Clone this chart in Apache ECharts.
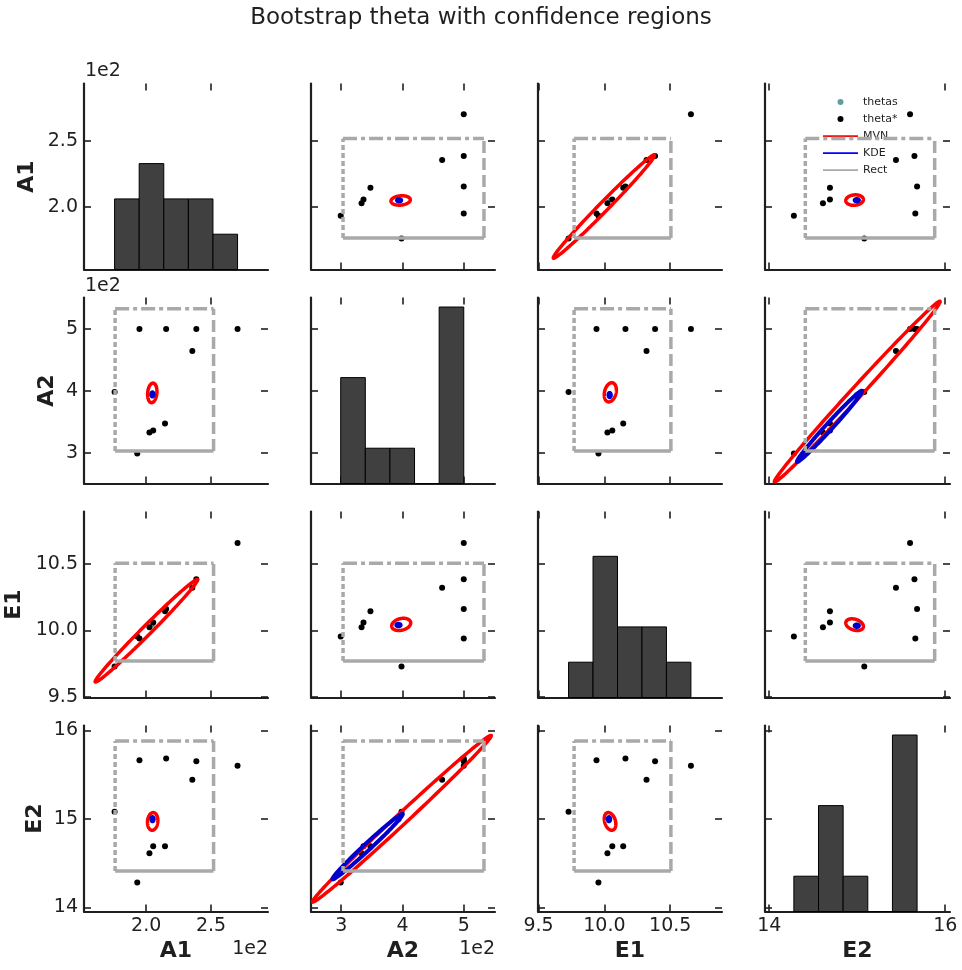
<!DOCTYPE html>
<html>
<head>
<meta charset="utf-8">
<script src="https://cdn.jsdelivr.net/npm/echarts@6/dist/echarts.min.js"></script>
<style>
  html, body { margin: 0; padding: 0; background: #fff; }
  #chart { width: 962px; height: 970px; }
</style>
</head>
<body>
<div id="chart"></div>
<script>
// variables of the pair plot
var varNames = ['A1', 'A2', 'E1', 'E2'];

// bootstrap estimates theta* (one entry per bootstrap sample)
var thetaStarA1 = [194.8, 215.4, 238.7, 270.5, 235.6, 175.6, 202.5, 205.4, 214.5, 193.1];
var thetaStarA2 = [500, 500, 500, 500, 464.7, 398.4, 333.2, 336.4, 347.7, 299.2];
var thetaStarE1 = [9.94, 10.16, 10.385, 10.657, 10.32, 9.728, 10.023, 10.06, 10.143, 9.955];
var thetaStarE2 = [15.66, 15.68, 15.65, 15.60, 15.44, 15.08, 14.61, 14.69, 14.69, 14.28];

// thetas (hidden under the KDE blob)
var thetasA1 = [204.8];
var thetasA2 = [394.5];
var thetasE1 = [10.04];
var thetasE2 = [14.99];

// histogram counts on the diagonal (5 bins between min and max of theta*)
var histA1 = [2, 3, 2, 2, 1];
var histA2 = [3, 1, 1, 0, 5];
var histE1 = [1, 4, 2, 2, 1];
var histE2 = [1, 3, 1, 0, 5];

// rectangular confidence region per variable
var rectLow = [176, 303, 9.77, 14.41];
var rectHigh = [252, 533, 10.505, 15.88];

// MVN confidence ellipses: [xVar, yVar, cx, cy, halfX, halfY, rho]
var mvnPairs = [
  ['A1', 'A2', 204.7, 397, 3.6, 15.8, 0.15],
  ['A1', 'E1', 200.1, 9.997, 39.5, 0.385, 0.992],
  ['A1', 'E2', 205, 14.97, 4.0, 0.10, 0.1],
  ['A2', 'E1', 397.9, 10.045, 15.5, 0.046, 0.25],
  ['A2', 'E2', 399, 15.0, 146, 0.942, 0.996],
  ['E1', 'E2', 10.043, 14.97, 0.044, 0.10, -0.3]
];

// KDE confidence contours: [xVar, yVar, cx, cy, halfX, halfY, rho]
var kdePairs = [
  ['A1', 'A2', 204.8, 394.5, 0.9, 3.4, 0],
  ['A1', 'E2', 204.9, 14.995, 0.9, 0.024, 0],
  ['A2', 'E1', 393.5, 10.04, 3.5, 0.009, 0],
  ['A2', 'E2', 343, 14.685, 57.5, 0.37, 0.99],
  ['E1', 'E2', 10.035, 14.995, 0.009, 0.024, 0]
];

// axis ranges and ticks
var axisMin = [152, 250.7, 9.496, 13.952];
var axisMax = [294, 551, 10.893, 16.054];
var xTicks = [[200, 250], [300, 400, 500], [9.5, 10, 10.5], [14, 16]];
var yTicks = [[200, 250], [300, 400, 500], [9.5, 10, 10.5], [14, 15, 16]];

var thetaStarCols = [thetaStarA1, thetaStarA2, thetaStarE1, thetaStarE2];
var thetasCols = [thetasA1, thetasA2, thetasE1, thetasE2];
var histCols = [histA1, histA2, histE1, histE2];

var FONT = 'DejaVu Sans';
var INK = '#1f1f1f';
var TICK_FONT = 19;
var colLeft = [84, 311, 538, 765];
var colWidth = [184, 184, 184, 185];
var rowTop = [83.5, 297.5, 511.5, 725.5];
var rowHeight = 186;
var yNameGap = [46, 26, 59, 38];

var labelFormat = [
  function (v) { return (v / 100).toFixed(1); },
  function (v) { return (v / 100).toFixed(0); },
  function (v) { return v.toFixed(1); },
  function (v) { return v.toFixed(0); }
];

function findPair(list, xv, yv) {
  for (var i = 0; i < list.length; i++) {
    var p = list[i];
    if (p[0] === xv && p[1] === yv) return [p[2], p[3], p[4], p[5], p[6]];
    if (p[0] === yv && p[1] === xv) return [p[3], p[2], p[5], p[4], p[6]];
  }
  return null;
}

function ellipseRender(color, width) {
  return function (params, api) {
    var cx = api.value(0), cy = api.value(1), sx = api.value(2), sy = api.value(3), rho = api.value(4);
    var k = Math.sqrt(1 - rho * rho);
    var pts = [];
    for (var i = 0; i <= 160; i++) {
      var t = i / 160 * 2 * Math.PI;
      pts.push(api.coord([cx + sx * Math.cos(t), cy + sy * (rho * Math.cos(t) + k * Math.sin(t))]));
    }
    return { type: 'polygon', shape: { points: pts }, style: { fill: 'none', stroke: color, lineWidth: width } };
  };
}

function rectRender(params, api) {
  var lo = api.coord([api.value(0), api.value(2)]);
  var hi = api.coord([api.value(1), api.value(3)]);
  var base = { stroke: '#a9a9a9', lineWidth: 3.5, fill: 'none' };
  function ln(x1, y1, x2, y2, dash) {
    return { type: 'line', shape: { x1: x1, y1: y1, x2: x2, y2: y2 },
      style: Object.assign({}, base, { lineDash: dash }) };
  }
  return { type: 'group', children: [
    ln(lo[0], lo[1], lo[0], hi[1], [5, 3]),
    ln(hi[0], lo[1], hi[0], hi[1], [12, 5]),
    ln(lo[0], lo[1], hi[0], lo[1], null),
    ln(lo[0], hi[1], hi[0], hi[1], [14, 4, 4, 4])
  ] };
}

function histRender(params, api) {
  var p0 = api.coord([api.value(0), 0]);
  var p1 = api.coord([api.value(1), api.value(2)]);
  return { type: 'rect', shape: { x: p0[0], y: p1[1], width: p1[0] - p0[0], height: p0[1] - p1[1] },
    style: { fill: '#404040', stroke: '#000', lineWidth: 1 } };
}

var grid = [], xAxis = [], yAxis = [], series = [];
var tickStyle = { color: INK, width: 1.6 };

for (var r = 0; r < 4; r++) {
  for (var c = 0; c < 4; c++) {
    var g = r * 4 + c;
    var diag = r === c;
    grid.push({ left: colLeft[c], top: rowTop[r], width: colWidth[c], height: rowHeight });

    xAxis.push({
      type: 'value', gridIndex: g, position: 'bottom', min: axisMin[c], max: axisMax[c],
      axisLine: { show: true, onZero: false, lineStyle: { color: INK, width: 2.2 } },
      axisTick: { show: true, inside: true, length: 7, customValues: xTicks[c], lineStyle: tickStyle },
      axisLabel: { show: r === 3, customValues: xTicks[c], formatter: labelFormat[c], margin: 5,
        fontSize: TICK_FONT, color: INK, fontFamily: FONT },
      splitLine: { show: false },
      name: r === 3 ? varNames[c] : '', nameLocation: 'middle', nameGap: 29,
      nameTextStyle: { fontSize: 22, fontWeight: 'bold', color: INK, fontFamily: FONT }
    });
    xAxis.push({
      type: 'value', gridIndex: g, position: 'top', min: axisMin[c], max: axisMax[c],
      axisLine: { show: false, onZero: false },
      axisTick: { show: true, inside: true, length: 7, customValues: xTicks[c], lineStyle: tickStyle },
      axisLabel: { show: false }, splitLine: { show: false }
    });

    yAxis.push({
      type: 'value', gridIndex: g, position: 'left', min: axisMin[r], max: axisMax[r],
      axisLine: { show: true, onZero: false, lineStyle: { color: INK, width: 2.2 } },
      axisTick: { show: true, inside: true, length: 7, customValues: yTicks[r], lineStyle: tickStyle },
      axisLabel: { show: c === 0, customValues: yTicks[r], formatter: labelFormat[r], margin: 6,
        fontSize: TICK_FONT, color: INK, fontFamily: FONT },
      splitLine: { show: false },
      name: c === 0 ? varNames[r] : '', nameLocation: 'middle', nameGap: yNameGap[r], nameRotate: 90,
      nameTextStyle: { fontSize: 22, fontWeight: 'bold', color: INK, fontFamily: FONT }
    });
    if (diag) {
      yAxis.push({ type: 'value', gridIndex: g, min: 0, max: 5.27, show: false });
    } else {
      yAxis.push({
        type: 'value', gridIndex: g, position: 'right', min: axisMin[r], max: axisMax[r],
        axisLine: { show: false, onZero: false },
        axisTick: { show: true, inside: true, length: 7, customValues: yTicks[r], lineStyle: tickStyle },
        axisLabel: { show: false }, splitLine: { show: false }
      });
    }

    if (diag) {
      var vals = thetaStarCols[c];
      var lo = Math.min.apply(null, vals), hi = Math.max.apply(null, vals);
      var w = (hi - lo) / histCols[c].length;
      var bins = histCols[c].map(function (n, i) { return [lo + i * w, lo + (i + 1) * w, n]; });
      series.push({ type: 'custom', name: 'hist' + c, xAxisIndex: 2 * g, yAxisIndex: 2 * g + 1,
        renderItem: histRender, data: bins });
      continue;
    }

    var xs = thetaStarCols[c], ys = thetaStarCols[r];
    var tx = thetasCols[c], ty = thetasCols[r];
    series.push({ type: 'scatter', name: 'thetas', xAxisIndex: 2 * g, yAxisIndex: 2 * g, z: 1,
      symbolSize: 5, itemStyle: { color: '#5f9ea0', opacity: 1 },
      data: tx.map(function (v, i) { return [v, ty[i]]; }) });
    series.push({ type: 'scatter', name: 'theta*', xAxisIndex: 2 * g, yAxisIndex: 2 * g,
      symbolSize: 6, itemStyle: { color: '#000', opacity: 1 },
      data: xs.map(function (v, i) { return [v, ys[i]]; }) });
    var m = findPair(mvnPairs, varNames[c], varNames[r]);
    series.push({ type: 'custom', name: 'MVN', xAxisIndex: 2 * g, yAxisIndex: 2 * g, clip: true, z: 3,
      itemStyle: { color: 'red' }, renderItem: ellipseRender('red', 3.5), data: m ? [m] : [] });
    var k = findPair(kdePairs, varNames[c], varNames[r]);
    series.push({ type: 'custom', name: 'KDE', xAxisIndex: 2 * g, yAxisIndex: 2 * g, clip: true, z: 4,
      itemStyle: { color: 'blue' }, renderItem: ellipseRender('#0000cc', 4), data: k ? [k] : [] });
    series.push({ type: 'custom', name: 'Rect', xAxisIndex: 2 * g, yAxisIndex: 2 * g, clip: true, z: 5,
      itemStyle: { color: '#a9a9a9' }, renderItem: rectRender,
      data: [[rectLow[c], rectHigh[c], rectLow[r], rectHigh[r]]] });
  }
}

var lineIcon = 'path://M0 0H40V2H0Z';
var offsetStyle = { text: '1e2', fontSize: TICK_FONT, fill: INK, fontFamily: FONT };
var chart = echarts.init(document.getElementById('chart'));
chart.setOption({
  animation: false,
  backgroundColor: '#fff',
  title: {
    text: 'Bootstrap theta with confidence regions', left: 'center', top: 2,
    textStyle: { fontSize: 23, fontWeight: 'normal', color: INK, fontFamily: FONT }
  },
  legend: {
    orient: 'vertical', left: 818, top: 90, itemWidth: 35, itemHeight: 6, itemGap: 3,
    selectedMode: false,
    textStyle: { fontSize: 11, color: INK, fontFamily: FONT, lineHeight: 14 },
    data: [
      { name: 'thetas', icon: 'circle', itemStyle: { color: '#5f9ea0' } },
      { name: 'theta*', icon: 'circle', itemStyle: { color: '#000' } },
      { name: 'MVN', icon: lineIcon, itemStyle: { color: 'red' } },
      { name: 'KDE', icon: lineIcon, itemStyle: { color: 'blue' } },
      { name: 'Rect', icon: lineIcon, itemStyle: { color: '#a9a9a9' } }
    ]
  },
  graphic: [
    { type: 'text', left: 85, top: 62, style: offsetStyle },
    { type: 'text', left: 85, top: 277, style: offsetStyle },
    { type: 'text', right: 962 - 268, top: 940, style: offsetStyle },
    { type: 'text', right: 962 - 495, top: 940, style: offsetStyle }
  ],
  grid: grid,
  xAxis: xAxis,
  yAxis: yAxis,
  series: series
});
</script>
</body>
</html>
